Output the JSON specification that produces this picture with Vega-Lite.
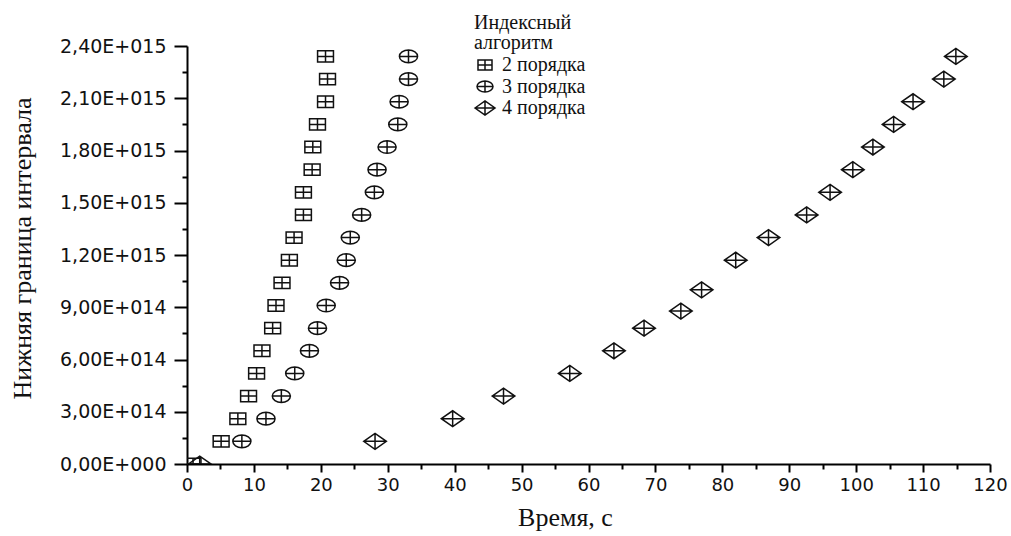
{
  "$schema": "https://vega.github.io/schema/vega-lite/v6.json",
  "autosize": {"type": "none"},
  "width": 803,
  "height": 418,
  "padding": {"left": 187, "top": 46, "right": 21, "bottom": 72},
  "background": "white",
  "config": {
    "view": {"stroke": null},
    "style": {"guide-title": {"font": "Liberation Serif", "fontWeight": "normal"}},
    "legend": {
      "titleFont": "Liberation Serif", "titleFontSize": 20, "titleFontWeight": "normal", "titleColor": "#111",
      "titleLineHeight": 20, "titlePadding": 1,
      "labelFont": "Liberation Serif", "labelFontSize": 20, "labelColor": "#111", "labelOffset": 6,
      "symbolSize": 400,
      "symbolStrokeColor": "#111", "symbolStrokeWidth": 1.5, "symbolFillColor": "transparent",
      "rowPadding": 0.5, "padding": 0
    }
  },
  "data": {"values": [
    {"s": "2 порядка", "t": 0.9, "y": 0},
    {"s": "2 порядка", "t": 5.1, "y": 1.3e14},
    {"s": "2 порядка", "t": 7.6, "y": 2.6e14},
    {"s": "2 порядка", "t": 9.2, "y": 3.9e14},
    {"s": "2 порядка", "t": 10.4, "y": 5.2e14},
    {"s": "2 порядка", "t": 11.2, "y": 6.5e14},
    {"s": "2 порядка", "t": 12.8, "y": 7.8e14},
    {"s": "2 порядка", "t": 13.3, "y": 9.1e14},
    {"s": "2 порядка", "t": 14.2, "y": 1.04e15},
    {"s": "2 порядка", "t": 15.3, "y": 1.17e15},
    {"s": "2 порядка", "t": 16.0, "y": 1.3e15},
    {"s": "2 порядка", "t": 17.4, "y": 1.43e15},
    {"s": "2 порядка", "t": 17.4, "y": 1.56e15},
    {"s": "2 порядка", "t": 18.7, "y": 1.69e15},
    {"s": "2 порядка", "t": 18.8, "y": 1.82e15},
    {"s": "2 порядка", "t": 19.5, "y": 1.95e15},
    {"s": "2 порядка", "t": 20.7, "y": 2.08e15},
    {"s": "2 порядка", "t": 21.0, "y": 2.21e15},
    {"s": "2 порядка", "t": 20.7, "y": 2.34e15},
    {"s": "3 порядка", "t": 8.2, "y": 1.3e14},
    {"s": "3 порядка", "t": 11.8, "y": 2.6e14},
    {"s": "3 порядка", "t": 14.1, "y": 3.9e14},
    {"s": "3 порядка", "t": 16.1, "y": 5.2e14},
    {"s": "3 порядка", "t": 18.3, "y": 6.5e14},
    {"s": "3 порядка", "t": 19.5, "y": 7.8e14},
    {"s": "3 порядка", "t": 20.8, "y": 9.1e14},
    {"s": "3 порядка", "t": 22.8, "y": 1.04e15},
    {"s": "3 порядка", "t": 23.8, "y": 1.17e15},
    {"s": "3 порядка", "t": 24.4, "y": 1.3e15},
    {"s": "3 порядка", "t": 26.1, "y": 1.43e15},
    {"s": "3 порядка", "t": 28.0, "y": 1.56e15},
    {"s": "3 порядка", "t": 28.4, "y": 1.69e15},
    {"s": "3 порядка", "t": 29.9, "y": 1.82e15},
    {"s": "3 порядка", "t": 31.5, "y": 1.95e15},
    {"s": "3 порядка", "t": 31.7, "y": 2.08e15},
    {"s": "3 порядка", "t": 33.1, "y": 2.21e15},
    {"s": "3 порядка", "t": 33.1, "y": 2.34e15},
    {"s": "4 порядка", "t": 1.9, "y": 0},
    {"s": "4 порядка", "t": 28.1, "y": 1.3e14},
    {"s": "4 порядка", "t": 39.7, "y": 2.6e14},
    {"s": "4 порядка", "t": 47.3, "y": 3.9e14},
    {"s": "4 порядка", "t": 57.2, "y": 5.2e14},
    {"s": "4 порядка", "t": 63.8, "y": 6.5e14},
    {"s": "4 порядка", "t": 68.3, "y": 7.8e14},
    {"s": "4 порядка", "t": 73.8, "y": 8.78e14},
    {"s": "4 порядка", "t": 76.9, "y": 1.0e15},
    {"s": "4 порядка", "t": 82.0, "y": 1.17e15},
    {"s": "4 порядка", "t": 86.9, "y": 1.3e15},
    {"s": "4 порядка", "t": 92.6, "y": 1.43e15},
    {"s": "4 порядка", "t": 96.1, "y": 1.56e15},
    {"s": "4 порядка", "t": 99.5, "y": 1.69e15},
    {"s": "4 порядка", "t": 102.5, "y": 1.82e15},
    {"s": "4 порядка", "t": 105.6, "y": 1.95e15},
    {"s": "4 порядка", "t": 108.5, "y": 2.08e15},
    {"s": "4 порядка", "t": 113.1, "y": 2.21e15},
    {"s": "4 порядка", "t": 114.9, "y": 2.34e15}
  ]},
  "mark": {"type": "point", "filled": false, "stroke": "#111", "strokeWidth": 1.5, "opacity": 1, "clip": true, "size": 515},
  "encoding": {
    "x": {
      "field": "t", "type": "quantitative",
      "scale": {"domain": [0, 120], "nice": false, "zero": false},
      "axis": {
        "title": "Время, с",
        "titleFont": "Liberation Serif", "titleFontSize": 26, "titleFontWeight": "normal", "titleColor": "#111",
        "titleX": 378, "titleY": 40, "titleAlign": "center", "titleBaseline": "top",
        "values": [0,5,10,15,20,25,30,35,40,45,50,55,60,65,70,75,80,85,90,95,100,105,110,115,120],
        "labelExpr": "datum.value % 10 == 0 ? datum.label : ''",
        "labelFont": "DejaVu Sans", "labelFontSize": 18, "labelColor": "#111", "labelPadding": 4,
        "labelFlush": false, "labelOverlap": false,
        "grid": false,
        "domainColor": "#000", "domainWidth": 2,
        "tickColor": "#000", "tickWidth": 2,
        "tickSize": {"condition": {"test": "datum.value % 10 != 0", "value": 5}, "value": 8}
      }
    },
    "y": {
      "field": "y", "type": "quantitative",
      "scale": {"domain": [0, 2.4e15], "nice": false},
      "axis": {
        "title": "Нижняя граница интервала",
        "titleFont": "Liberation Serif", "titleFontSize": 26, "titleFontWeight": "normal", "titleColor": "#111",
        "titleX": -165, "titleY": 202, "titleAlign": "center", "titleBaseline": "middle", "titleAngle": -90,
        "values": [0,1.5e14,3e14,4.5e14,6e14,7.5e14,9e14,1.05e15,1.2e15,1.35e15,1.5e15,1.65e15,1.8e15,1.95e15,2.1e15,2.25e15,2.4e15],
        "labelExpr": "round(datum.value/1.5e14) % 2 == 1 ? '' : (datum.value == 0 ? '0,00E+000' : replace(format(datum.value / pow(10, floor(log(datum.value)/LN10 + 1e-9)), '.2f'), '.', ',') + 'E+0' + floor(log(datum.value)/LN10 + 1e-9))",
        "labelFont": "DejaVu Sans", "labelFontSize": 19, "labelColor": "#111", "labelPadding": 8,
        "labelFlush": false, "labelOverlap": false,
        "grid": false,
        "domainColor": "#000", "domainWidth": 2,
        "tickColor": "#000", "tickWidth": 2,
        "tickSize": {"condition": {"test": "round(datum.value/1.5e14) % 2 == 1", "value": 5}, "value": 13}
      }
    },
    "shape": {
      "field": "s", "type": "nominal",
      "scale": {
        "domain": ["2 порядка", "3 порядка", "4 порядка"],
        "range": [
          "M-0.7,-0.5H0.7V0.5H-0.7ZM0,-0.5V0.5M-0.7,0H0.7",
          "M-0.8,0A0.8,0.56,0,1,1,0.8,0A0.8,0.56,0,1,1,-0.8,0ZM0,-0.56V0.56M-0.8,0H0.8",
          "M-1,0L0,-0.7L1,0L0,0.7ZM-1,0H1M0,-0.7V0.7"
        ]
      },
      "legend": {
        "orient": "none", "legendX": 287, "legendY": -33,
        "title": ["\u00a0\u00a0\u00a0\u00a0Индексный", "\u00a0\u00a0\u00a0\u00a0алгоритм"],
        "titleFont": "Liberation Serif", "titleFontSize": 20, "titleColor": "#111"
      }
    }
  }
}
